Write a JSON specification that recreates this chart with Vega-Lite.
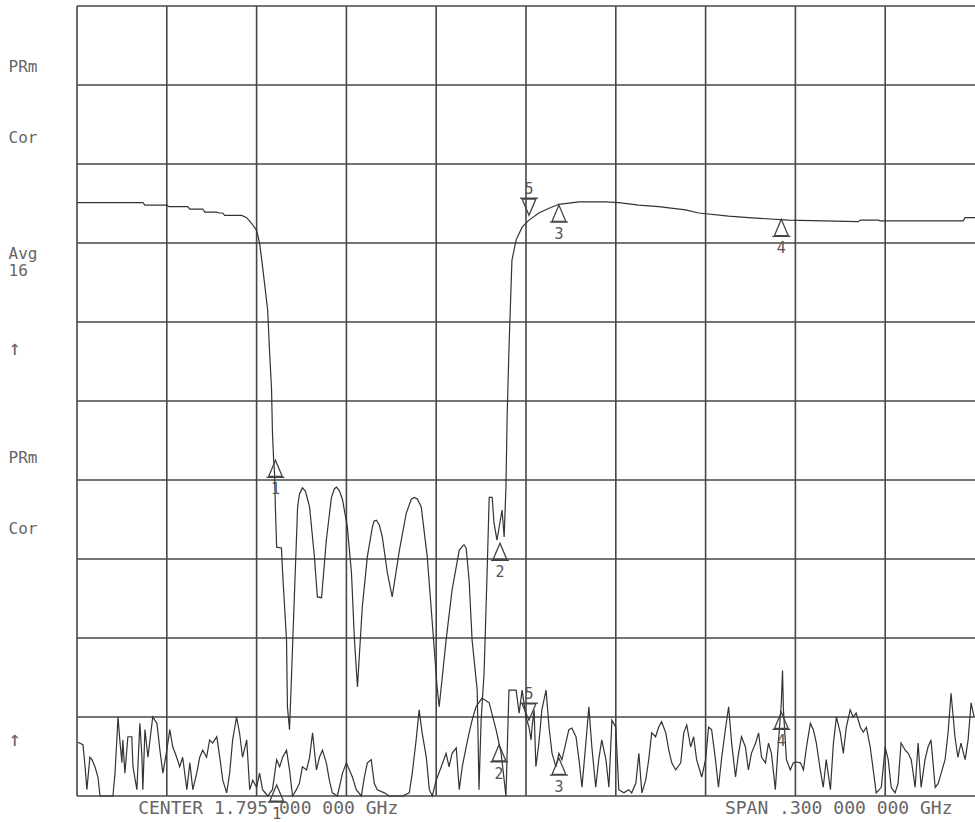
{
  "$schema": "https://vega.github.io/schema/vega-lite/v6.json",
  "width": 898,
  "height": 790,
  "autosize": {"type": "none"},
  "padding": {"left": 77, "top": 6, "right": 0, "bottom": 26},
  "background": "#ffffff",
  "config": {"view": {"stroke": null}},
  "title": {
    "text": "CH2 S22       LOG          5 dB/ REF -15 dB                    1.7950000 GHz",
    "anchor": "start", "frame": "group", "orient": "top", "offset": -2, "dx": -65,
    "baseline": "bottom", "font": "DejaVu Sans Mono", "fontSize": 16, "fontWeight": "normal", "color": "#777777"
  },
  "datasets": {
    "vgrid": [{"f": 1645}, {"f": 1675}, {"f": 1705}, {"f": 1735}, {"f": 1765}, {"f": 1795}, {"f": 1825}, {"f": 1855}, {"f": 1885}, {"f": 1915}],
    "hgrid": [{"db": 0}, {"db": -10}, {"db": -20}, {"db": -30}, {"db": -40}, {"db": -50}, {"db": -60}, {"db": -70}, {"db": -80}, {"db": -90}, {"db": -100}],
    "t1": [
      {"f":1645.0,"db":-24.9},{"f":1667.0,"db":-24.9},{"f":1667.7,"db":-25.2},{"f":1675.0,"db":-25.2},{"f":1675.7,"db":-25.4},{"f":1682.0,"db":-25.4},{"f":1682.7,"db":-25.7},{"f":1687.0,"db":-25.7},{"f":1687.7,"db":-26.1},{"f":1691.7,"db":-26.1},{"f":1692.3,"db":-26.2},{"f":1693.7,"db":-26.2},{"f":1694.3,"db":-26.5},{"f":1700.0,"db":-26.5},{"f":1701.7,"db":-26.8},{"f":1703.3,"db":-27.5},{"f":1705.0,"db":-28.4},{"f":1706.0,"db":-30.0},{"f":1707.0,"db":-33.0},{"f":1708.7,"db":-38.5},{"f":1709.3,"db":-43.5},{"f":1710.0,"db":-48.6},{"f":1710.3,"db":-54.1},{"f":1710.7,"db":-57.5},{"f":1711.0,"db":-59.1},{"f":1711.3,"db":-63.8},{"f":1711.7,"db":-68.5},{"f":1713.3,"db":-68.6},{"f":1713.7,"db":-71.8},{"f":1715.0,"db":-80.3},{"f":1715.3,"db":-88.7},{"f":1716.0,"db":-91.6},{"f":1716.7,"db":-84.4},{"f":1717.7,"db":-73.9},{"f":1718.7,"db":-63.4},{"f":1719.3,"db":-61.8},{"f":1720.3,"db":-61.0},{"f":1721.3,"db":-61.4},{"f":1722.7,"db":-63.4},{"f":1724.3,"db":-69.7},{"f":1725.3,"db":-74.8},{"f":1726.7,"db":-74.9},{"f":1728.3,"db":-67.6},{"f":1730.0,"db":-62.2},{"f":1731.0,"db":-61.1},{"f":1731.7,"db":-60.9},{"f":1732.7,"db":-61.4},{"f":1733.7,"db":-62.5},{"f":1735.3,"db":-65.9},{"f":1736.7,"db":-71.8},{"f":1737.7,"db":-80.3},{"f":1738.7,"db":-86.2},{"f":1740.3,"db":-76.1},{"f":1742.0,"db":-69.7},{"f":1743.7,"db":-65.9},{"f":1744.3,"db":-65.2},{"f":1745.0,"db":-65.1},{"f":1746.0,"db":-65.7},{"f":1747.0,"db":-67.2},{"f":1748.7,"db":-71.8},{"f":1750.3,"db":-74.8},{"f":1752.7,"db":-68.9},{"f":1755.0,"db":-64.2},{"f":1756.7,"db":-62.4},{"f":1757.7,"db":-62.2},{"f":1758.7,"db":-62.4},{"f":1760.0,"db":-63.4},{"f":1762.0,"db":-69.7},{"f":1763.7,"db":-78.1},{"f":1765.3,"db":-86.2},{"f":1766.0,"db":-88.7},{"f":1768.3,"db":-80.3},{"f":1770.3,"db":-73.9},{"f":1772.7,"db":-68.9},{"f":1773.7,"db":-68.4},{"f":1774.3,"db":-68.2},{"f":1775.0,"db":-68.6},{"f":1776.0,"db":-72.7},{"f":1777.0,"db":-80.3},{"f":1778.7,"db":-86.6},{"f":1779.3,"db":-99.2},{"f":1780.0,"db":-90.4},{"f":1781.0,"db":-84.4},{"f":1782.0,"db":-71.8},{"f":1782.7,"db":-62.2},{"f":1783.7,"db":-62.2},{"f":1784.3,"db":-65.4},{"f":1785.3,"db":-67.6},{"f":1787.0,"db":-63.8},{"f":1787.7,"db":-67.2},{"f":1788.3,"db":-60.9},{"f":1788.7,"db":-52.0},{"f":1789.3,"db":-43.5},{"f":1790.3,"db":-32.2},{"f":1791.7,"db":-29.6},{"f":1793.7,"db":-28.0},{"f":1796.0,"db":-27.1},{"f":1799.3,"db":-26.2},{"f":1802.7,"db":-25.6},{"f":1806.0,"db":-25.1},{"f":1812.7,"db":-24.8},{"f":1821.7,"db":-24.8},{"f":1826.0,"db":-24.9},{"f":1832.7,"db":-25.2},{"f":1839.3,"db":-25.4},{"f":1848.3,"db":-25.8},{"f":1852.7,"db":-26.2},{"f":1862.7,"db":-26.6},{"f":1869.3,"db":-26.8},{"f":1882.7,"db":-27.1},{"f":1906.0,"db":-27.3},{"f":1906.7,"db":-27.1},{"f":1912.7,"db":-27.1},{"f":1913.3,"db":-27.2},{"f":1941.0,"db":-27.2},{"f":1941.7,"db":-26.8},{"f":1945.0,"db":-26.8}
    ],
    "t2": [
      {"f":1645.3,"db":-93.2},{"f":1647.0,"db":-93.5},{"f":1647.7,"db":-96.3},{"f":1648.3,"db":-99.2},{"f":1649.3,"db":-95.1},{"f":1650.0,"db":-95.4},{"f":1651.0,"db":-96.3},{"f":1652.0,"db":-97.6},{"f":1652.7,"db":-100},{"f":1657.0,"db":-100},{"f":1657.7,"db":-97.1},{"f":1658.3,"db":-92.9},{"f":1658.7,"db":-90.0},{"f":1659.3,"db":-92.9},{"f":1660.0,"db":-95.8},{"f":1660.3,"db":-92.9},{"f":1661.0,"db":-97.1},{"f":1662.0,"db":-92.5},{"f":1663.3,"db":-92.5},{"f":1663.7,"db":-96.3},{"f":1665.0,"db":-99.2},{"f":1666.0,"db":-90.8},{"f":1666.7,"db":-95.1},{"f":1667.0,"db":-99.2},{"f":1667.7,"db":-91.6},{"f":1668.7,"db":-95.1},{"f":1670.3,"db":-90.0},{"f":1671.7,"db":-90.8},{"f":1672.7,"db":-94.2},{"f":1673.7,"db":-97.1},{"f":1675.0,"db":-94.2},{"f":1676.0,"db":-91.6},{"f":1677.0,"db":-93.8},{"f":1678.3,"db":-95.1},{"f":1679.3,"db":-96.3},{"f":1680.3,"db":-95.1},{"f":1681.7,"db":-99.2},{"f":1682.7,"db":-95.8},{"f":1683.7,"db":-99.2},{"f":1685.0,"db":-97.1},{"f":1686.0,"db":-95.1},{"f":1687.0,"db":-94.2},{"f":1688.3,"db":-95.1},{"f":1689.3,"db":-92.9},{"f":1690.3,"db":-93.3},{"f":1691.7,"db":-92.5},{"f":1692.7,"db":-95.1},{"f":1693.7,"db":-98.0},{"f":1695.0,"db":-99.6},{"f":1696.0,"db":-97.1},{"f":1697.0,"db":-92.9},{"f":1698.3,"db":-90.0},{"f":1699.3,"db":-92.0},{"f":1700.3,"db":-95.1},{"f":1701.7,"db":-92.9},{"f":1702.7,"db":-99.2},{"f":1703.7,"db":-98.0},{"f":1705.0,"db":-98.9},{"f":1706.0,"db":-97.1},{"f":1707.0,"db":-99.2},{"f":1708.7,"db":-100},{"f":1710.3,"db":-99.2},{"f":1711.7,"db":-95.4},{"f":1712.7,"db":-96.3},{"f":1713.7,"db":-95.1},{"f":1715.0,"db":-94.2},{"f":1716.0,"db":-96.7},{"f":1717.0,"db":-100},{"f":1718.3,"db":-99.2},{"f":1719.3,"db":-98.4},{"f":1720.3,"db":-96.3},{"f":1721.7,"db":-96.7},{"f":1722.7,"db":-95.1},{"f":1723.7,"db":-92.0},{"f":1725.0,"db":-96.7},{"f":1726.0,"db":-95.1},{"f":1727.0,"db":-94.2},{"f":1728.3,"db":-95.8},{"f":1729.3,"db":-98.0},{"f":1730.3,"db":-99.6},{"f":1732.0,"db":-100},{"f":1733.7,"db":-97.1},{"f":1735.0,"db":-95.8},{"f":1736.0,"db":-96.7},{"f":1737.0,"db":-97.6},{"f":1738.3,"db":-99.2},{"f":1740.0,"db":-100},{"f":1741.0,"db":-97.6},{"f":1742.0,"db":-95.8},{"f":1743.3,"db":-95.4},{"f":1744.3,"db":-98.4},{"f":1745.3,"db":-99.2},{"f":1747.7,"db":-99.6},{"f":1749.3,"db":-100},{"f":1753.7,"db":-100},{"f":1756.0,"db":-99.6},{"f":1757.0,"db":-97.1},{"f":1758.3,"db":-92.9},{"f":1759.3,"db":-89.1},{"f":1760.3,"db":-92.0},{"f":1761.7,"db":-95.1},{"f":1762.7,"db":-99.2},{"f":1763.7,"db":-100},{"f":1765.0,"db":-98.0},{"f":1766.7,"db":-96.3},{"f":1768.3,"db":-94.6},{"f":1769.3,"db":-96.3},{"f":1770.3,"db":-94.6},{"f":1771.7,"db":-93.9},{"f":1772.7,"db":-99.2},{"f":1773.7,"db":-96.3},{"f":1775.0,"db":-93.8},{"f":1776.0,"db":-92.0},{"f":1777.0,"db":-90.4},{"f":1778.3,"db":-88.7},{"f":1780.3,"db":-87.6},{"f":1782.7,"db":-88.2},{"f":1785.0,"db":-91.6},{"f":1786.7,"db":-94.6},{"f":1788.3,"db":-100},{"f":1789.3,"db":-86.6},{"f":1791.7,"db":-86.6},{"f":1792.7,"db":-89.5},{"f":1793.7,"db":-86.6},{"f":1795.0,"db":-90.0},{"f":1796.0,"db":-91.3},{"f":1796.7,"db":-92.9},{"f":1797.0,"db":-91.3},{"f":1797.7,"db":-89.1},{"f":1798.3,"db":-96.3},{"f":1799.3,"db":-93.3},{"f":1800.3,"db":-89.1},{"f":1801.7,"db":-86.6},{"f":1802.7,"db":-91.3},{"f":1803.7,"db":-94.6},{"f":1805.0,"db":-96.3},{"f":1806.0,"db":-94.6},{"f":1807.0,"db":-95.4},{"f":1808.3,"db":-93.3},{"f":1809.3,"db":-91.6},{"f":1810.3,"db":-91.4},{"f":1811.7,"db":-92.5},{"f":1812.7,"db":-95.4},{"f":1813.7,"db":-98.9},{"f":1815.0,"db":-93.3},{"f":1816.0,"db":-88.7},{"f":1817.0,"db":-93.8},{"f":1818.3,"db":-98.9},{"f":1819.3,"db":-95.4},{"f":1820.3,"db":-92.9},{"f":1821.7,"db":-95.4},{"f":1822.7,"db":-98.9},{"f":1823.7,"db":-90.4},{"f":1825.0,"db":-91.3},{"f":1826.0,"db":-99.2},{"f":1827.7,"db":-99.6},{"f":1829.3,"db":-99.2},{"f":1830.3,"db":-99.6},{"f":1831.7,"db":-98.4},{"f":1832.7,"db":-94.6},{"f":1833.7,"db":-99.6},{"f":1835.0,"db":-98.0},{"f":1836.0,"db":-95.4},{"f":1837.0,"db":-92.0},{"f":1838.3,"db":-92.5},{"f":1839.3,"db":-91.3},{"f":1840.3,"db":-90.6},{"f":1841.7,"db":-92.0},{"f":1842.7,"db":-94.2},{"f":1843.7,"db":-95.8},{"f":1845.0,"db":-96.7},{"f":1846.7,"db":-95.8},{"f":1847.7,"db":-92.0},{"f":1848.7,"db":-91.0},{"f":1850.0,"db":-93.8},{"f":1851.0,"db":-92.5},{"f":1852.0,"db":-95.4},{"f":1853.7,"db":-97.6},{"f":1855.0,"db":-95.4},{"f":1856.0,"db":-91.3},{"f":1857.0,"db":-91.6},{"f":1858.3,"db":-95.4},{"f":1859.3,"db":-98.9},{"f":1860.3,"db":-95.4},{"f":1861.7,"db":-91.3},{"f":1862.7,"db":-88.7},{"f":1863.7,"db":-93.3},{"f":1865.0,"db":-97.6},{"f":1866.0,"db":-94.6},{"f":1867.0,"db":-92.5},{"f":1868.3,"db":-93.8},{"f":1869.3,"db":-96.7},{"f":1870.3,"db":-94.6},{"f":1871.7,"db":-93.3},{"f":1872.7,"db":-92.0},{"f":1873.7,"db":-95.1},{"f":1875.0,"db":-95.8},{"f":1876.0,"db":-93.3},{"f":1877.0,"db":-94.6},{"f":1878.3,"db":-99.2},{"f":1879.3,"db":-93.3},{"f":1880.3,"db":-88.2},{"f":1880.7,"db":-84.1},{"f":1881.0,"db":-89.1},{"f":1882.0,"db":-95.4},{"f":1883.3,"db":-96.7},{"f":1884.3,"db":-95.8},{"f":1885.3,"db":-95.7},{"f":1886.7,"db":-95.8},{"f":1887.7,"db":-96.7},{"f":1888.7,"db":-93.8},{"f":1890.0,"db":-90.8},{"f":1891.0,"db":-91.6},{"f":1892.0,"db":-93.3},{"f":1893.3,"db":-96.7},{"f":1894.3,"db":-98.9},{"f":1895.3,"db":-95.4},{"f":1896.7,"db":-99.2},{"f":1897.7,"db":-93.3},{"f":1898.7,"db":-90.0},{"f":1900.0,"db":-92.0},{"f":1901.0,"db":-94.6},{"f":1902.0,"db":-91.3},{"f":1903.3,"db":-89.1},{"f":1904.3,"db":-90.0},{"f":1905.3,"db":-89.5},{"f":1906.7,"db":-91.3},{"f":1907.7,"db":-91.9},{"f":1908.7,"db":-91.3},{"f":1910.0,"db":-93.8},{"f":1911.0,"db":-96.7},{"f":1912.0,"db":-99.6},{"f":1913.7,"db":-98.9},{"f":1915.0,"db":-93.8},{"f":1916.0,"db":-95.4},{"f":1917.0,"db":-98.9},{"f":1918.3,"db":-99.6},{"f":1919.3,"db":-98.4},{"f":1920.3,"db":-93.3},{"f":1921.7,"db":-94.2},{"f":1922.7,"db":-94.6},{"f":1923.7,"db":-95.4},{"f":1925.0,"db":-98.9},{"f":1926.0,"db":-93.3},{"f":1927.0,"db":-98.9},{"f":1928.3,"db":-95.4},{"f":1929.3,"db":-93.8},{"f":1930.3,"db":-92.9},{"f":1931.7,"db":-98.9},{"f":1932.7,"db":-98.4},{"f":1933.7,"db":-97.1},{"f":1935.0,"db":-95.4},{"f":1936.0,"db":-92.0},{"f":1937.0,"db":-87.0},{"f":1938.3,"db":-92.5},{"f":1939.3,"db":-95.1},{"f":1940.3,"db":-93.3},{"f":1941.7,"db":-95.4},{"f":1942.7,"db":-92.9},{"f":1943.7,"db":-88.2},{"f":1944.7,"db":-90.0}
    ],
    "markers": [
      {"ch": 1, "n": "1", "dir": "up", "f": 1711.3, "db": -57.5},
      {"ch": 1, "n": "2", "dir": "up", "f": 1786.3, "db": -68.0},
      {"ch": 1, "n": "3", "dir": "up", "f": 1806.0, "db": -25.2},
      {"ch": 1, "n": "4", "dir": "up", "f": 1880.3, "db": -27.0},
      {"ch": 1, "n": "5", "dir": "down", "f": 1796.0, "db": -26.5},
      {"ch": 2, "n": "1", "dir": "up", "f": 1711.7, "db": -98.6},
      {"ch": 2, "n": "2", "dir": "up", "f": 1786.0, "db": -93.5},
      {"ch": 2, "n": "3", "dir": "up", "f": 1806.0, "db": -95.2},
      {"ch": 2, "n": "4", "dir": "up", "f": 1880.3, "db": -89.4},
      {"ch": 2, "n": "5", "dir": "down", "f": 1796.0, "db": -90.4}
    ]
  },
  "layer": [
    {
      "data": {"name": "vgrid"},
      "mark": {"type": "rule", "color": "#474747", "strokeWidth": 1.6},
      "encoding": {
        "x": {
          "field": "f", "type": "quantitative",
          "scale": {"domain": [1645, 1945], "nice": false, "zero": false},
          "axis": {
            "values": [1708.7, 1899.3],
            "labelExpr": "datum.value < 1800 ? 'CENTER 1.795 000 000 GHz' : 'SPAN .300 000 000 GHz'",
            "title": null, "ticks": false, "domain": false, "grid": false,
            "labelFont": "DejaVu Sans Mono", "labelFontSize": 18, "labelColor": "#666666", "labelLimit": 500,
            "labelPadding": 3, "labelBaseline": "top", "labelOverlap": false, "labelFlush": false, "labelBound": false
          }
        }
      }
    },
    {
      "data": {"name": "hgrid"},
      "mark": {"type": "rule", "color": "#474747", "strokeWidth": 1.6},
      "encoding": {
        "y": {
          "field": "db", "type": "quantitative",
          "scale": {"domain": [-100, 0], "nice": false, "zero": false},
          "axis": {
            "values": [-7.6, -16.7, -31.3, -33.5, -43.4, -57.2, -66.1, -92.9],
            "labelExpr": "datum.value > -12 ? 'PRm' : datum.value > -25 ? 'Cor' : datum.value > -32.5 ? 'Avg' : datum.value > -38 ? '16' : datum.value > -50 ? '\u00a0↑' : datum.value > -62 ? 'PRm' : datum.value > -80 ? 'Cor' : '\u00a0↑'",
            "title": null, "ticks": false, "domain": false, "grid": false,
            "labelFont": "DejaVu Sans Mono",
            "labelFontSize": {"condition": {"test": "(datum.value < -40 && datum.value > -50) || datum.value < -90", "value": 21}, "value": 16},
            "labelColor": "#666666", "labelLimit": 200,
            "labelAlign": "left", "labelBaseline": "middle", "labelPadding": 69,
            "labelOverlap": false, "labelFlush": false, "labelBound": false
          }
        }
      }
    },
    {
      "data": {"name": "t1"},
      "mark": {"type": "line", "color": "#333333", "strokeWidth": 1.2},
      "encoding": {
        "x": {"field": "f", "type": "quantitative"},
        "y": {"field": "db", "type": "quantitative"}
      }
    },
    {
      "data": {"name": "t2"},
      "mark": {"type": "line", "color": "#333333", "strokeWidth": 1.2},
      "encoding": {
        "x": {"field": "f", "type": "quantitative"},
        "y": {"field": "db", "type": "quantitative"}
      }
    },
    {
      "data": {"name": "markers"},
      "mark": {"type": "point", "filled": false, "stroke": "#444444", "strokeWidth": 1.3, "opacity": 1},
      "encoding": {
        "x": {"field": "f", "type": "quantitative"},
        "y": {"field": "db", "type": "quantitative"},
        "shape": {
          "field": "dir", "type": "nominal", "legend": null,
          "scale": {"domain": ["up", "down"], "range": ["M0,0L-0.38,0.9L0.38,0.9Z M-0.5,0.95L0.5,0.95", "M0,0L-0.38,-0.9L0.38,-0.9Z M-0.5,-0.95L0.5,-0.95"]}
        },
        "size": {"value": 1300}
      }
    },
    {
      "data": {"name": "markers"},
      "transform": [{"filter": "datum.dir == 'up'"}],
      "mark": {"type": "text", "dy": 29, "font": "DejaVu Sans Mono", "fontSize": 15, "color": "#555555", "baseline": "middle"},
      "encoding": {
        "x": {"field": "f", "type": "quantitative"},
        "y": {"field": "db", "type": "quantitative"},
        "text": {"field": "n"}
      }
    },
    {
      "data": {"name": "markers"},
      "transform": [{"filter": "datum.dir == 'down'"}],
      "mark": {"type": "text", "dy": -26, "font": "DejaVu Sans Mono", "fontSize": 15, "color": "#555555", "baseline": "middle"},
      "encoding": {
        "x": {"field": "f", "type": "quantitative"},
        "y": {"field": "db", "type": "quantitative"},
        "text": {"field": "n"}
      }
    }
  ]
}
